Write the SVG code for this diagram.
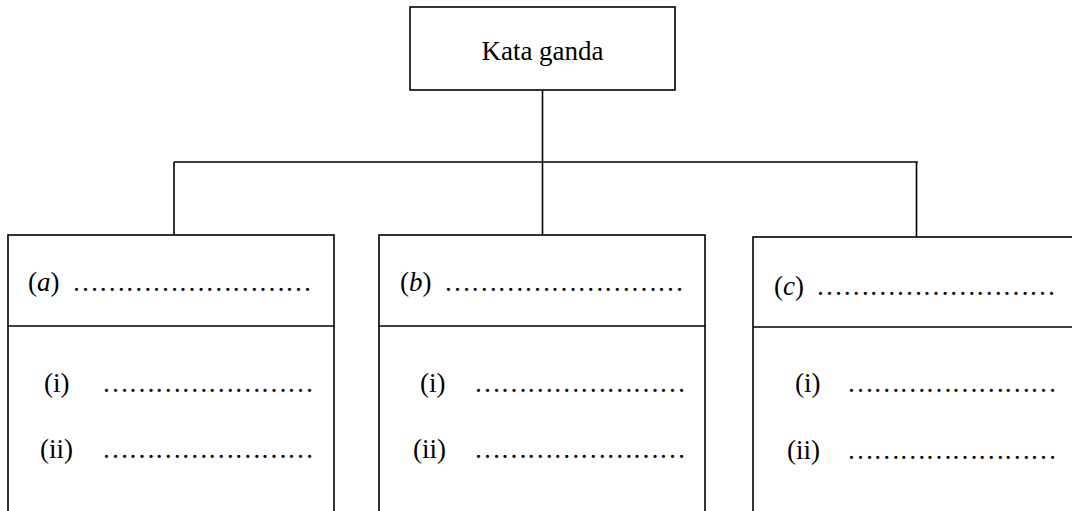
<svg xmlns="http://www.w3.org/2000/svg" width="1072" height="511" viewBox="0 0 1072 511">
<style>
.box{fill:#fff;stroke:#000;stroke-width:1.6}
.ln{fill:none;stroke:#000;stroke-width:1.6}
.t{font-family:"Liberation Serif","Times New Roman",serif;font-size:27px;fill:#000}
.i{font-style:italic}
</style>
<rect width="1072" height="511" fill="#fff"/>
<g id="connectors">
<line class="ln" x1="542.5" y1="90" x2="542.5" y2="235"/>
<line class="ln" x1="174" y1="162" x2="918" y2="162"/>
<line class="ln" x1="174" y1="162" x2="174" y2="235"/>
<line class="ln" x1="916.5" y1="162" x2="916.5" y2="237"/>
</g>
<g id="root">
<rect class="box" x="410" y="7" width="265" height="83"/>
<text class="t" x="542.5" y="60" text-anchor="middle">Kata ganda</text>
</g>
<g id="node-a">
<rect class="box" x="8" y="235" width="326" height="290"/>
<line class="ln" x1="8" y1="326" x2="334" y2="326"/>
<text class="t" x="28" y="291">(<tspan class="i">a</tspan>)</text>
<text class="t" x="72" y="291" textLength="240" lengthAdjust="spacing">………………………</text>
<text class="t" x="44" y="392">(i)</text>
<text class="t" x="102" y="392" textLength="212" lengthAdjust="spacing">……………………</text>
<text class="t" x="40" y="458">(ii)</text>
<text class="t" x="102" y="458" textLength="212" lengthAdjust="spacing">……………………</text>
</g>
<g id="node-b">
<rect class="box" x="379" y="235" width="326" height="290"/>
<line class="ln" x1="379" y1="326" x2="705" y2="326"/>
<text class="t" x="400" y="291">(<tspan class="i">b</tspan>)</text>
<text class="t" x="444" y="291" textLength="240" lengthAdjust="spacing">………………………</text>
<text class="t" x="420" y="392">(i)</text>
<text class="t" x="474" y="392" textLength="212" lengthAdjust="spacing">……………………</text>
<text class="t" x="413" y="458">(ii)</text>
<text class="t" x="474" y="458" textLength="212" lengthAdjust="spacing">……………………</text>
</g>
<g id="node-c">
<rect class="box" x="753" y="237" width="340" height="290"/>
<line class="ln" x1="753" y1="327" x2="1080" y2="327"/>
<text class="t" x="774" y="295">(<tspan class="i">c</tspan>)</text>
<text class="t" x="816" y="295" textLength="240" lengthAdjust="spacing">………………………</text>
<text class="t" x="795" y="392">(i)</text>
<text class="t" x="847" y="392" textLength="210" lengthAdjust="spacing">……………………</text>
<text class="t" x="787" y="459">(ii)</text>
<text class="t" x="847" y="459" textLength="210" lengthAdjust="spacing">……………………</text>
</g>
</svg>
